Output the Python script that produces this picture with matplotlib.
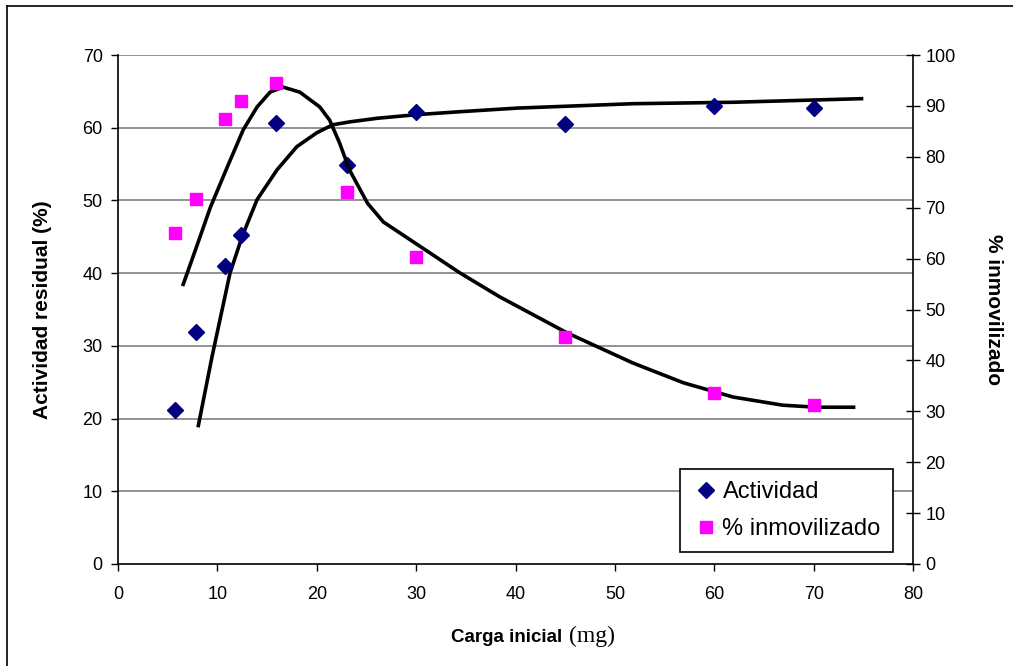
import matplotlib
matplotlib.use("Agg")
import matplotlib.pyplot as plt
from matplotlib.lines import Line2D

# ---- data ----
carga = [5.7, 7.8, 10.8, 12.4, 15.9, 23, 30, 45, 60, 70]
actividad = [21.2, 31.9, 41.0, 45.3, 60.7, 54.9, 62.2, 60.5, 63.0, 62.7]
inmovilizado = [65.0, 71.7, 87.4, 91.0, 94.5, 73.1, 60.3, 44.6, 33.6, 31.2]

# trend curve for actividad (left axis)
trend_act_x = [8.05, 9.46, 11.27, 12.48, 13.99, 16.0, 18.0, 20.0, 21.6, 23.3,
               26.1, 30.1, 34.4, 40.2, 51.8, 61.9, 75.0]
trend_act_y = [18.8, 28.5, 40.0, 45.0, 50.1, 54.2, 57.4, 59.3, 60.4, 60.8,
               61.3, 61.8, 62.2, 62.7, 63.3, 63.5, 64.0]

# trend curve for % inmovilizado (right axis)
trend_inm_x = [6.5, 7.9, 9.3, 11.0, 12.6, 14.0, 15.3, 16.6, 18.3, 20.3, 21.3,
               22.3, 23.3, 25.1, 26.7, 29.4, 34.4, 38.4, 45.2, 51.8, 56.9,
               61.9, 66.9, 70.3, 74.2]
trend_inm_y = [54.6, 62.3, 70.1, 78.0, 85.3, 89.8, 92.7, 93.7, 92.7, 89.8, 87.2,
               82.7, 77.4, 70.9, 67.2, 63.7, 57.2, 52.5, 45.4, 39.5, 35.6,
               32.8, 31.2, 30.8, 30.8]

x_ticks = [0, 10, 20, 30, 40, 50, 60, 70, 80]
left_ticks = [0, 10, 20, 30, 40, 50, 60, 70]
right_ticks = [0, 10, 20, 30, 40, 50, 60, 70, 80, 90, 100]

SANS = "Liberation Sans"
SERIF = "Liberation Serif"
plt.rcParams["font.family"] = SANS

fig = plt.figure(figsize=(10.13, 6.66), dpi=100)
ax = fig.add_axes([118 / 1013, 102 / 666, 795 / 1013, 509 / 666])
ax2 = ax.twinx()

# gridlines
for v in left_ticks[1:]:
    ax.axhline(v, color="#808080", lw=1.2, zorder=0)

ax.set_xlim(0, 80)
ax.set_ylim(0, 70)
ax2.set_ylim(0, 100)

ax.set_xticks(x_ticks)
ax.set_yticks(left_ticks)
ax2.set_yticks(right_ticks)

for a in (ax, ax2):
    a.spines["top"].set_visible(False)
    for s in a.spines.values():
        s.set_linewidth(1.2)
        s.set_color("black")
ax.spines["right"].set_visible(False)
ax2.spines["left"].set_visible(False)
ax2.spines["bottom"].set_visible(False)

ax.tick_params(axis="x", direction="out", length=5, width=1, labelsize=13, pad=11)
ax.tick_params(axis="y", direction="out", length=5, width=1, labelsize=13, pad=6)
ax2.tick_params(axis="y", direction="inout", length=10, width=1, labelsize=13, pad=4)

# series
ax.plot(carga, actividad, linestyle="none", marker="D", markersize=8.5,
        color="#000080", zorder=4)
ax2.plot(carga, inmovilizado, linestyle="none", marker="s", markersize=9,
         color="#FF00FF", zorder=4)
ax.plot(trend_act_x, trend_act_y, color="black", lw=2.6, zorder=3,
        solid_capstyle="butt", solid_joinstyle="round")
ax2.plot(trend_inm_x, trend_inm_y, color="black", lw=2.6, zorder=3,
         solid_capstyle="butt", solid_joinstyle="round")

# labels
ax.set_ylabel("Actividad residual (%)", fontsize=15, fontweight="bold",
              labelpad=22)
ax2.set_ylabel("% inmovilizado", fontsize=15, fontweight="bold",
               rotation=270, labelpad=34)
fig.text(0.5 * (450 + 563) / 1013, (666 - 637) / 666, "Carga inicial",
         fontsize=13.5, fontweight="bold", ha="center", va="center",
         family=SANS)
fig.text(569 / 1013, (666 - 636) / 666, "(mg)", fontsize=17,
         ha="left", va="center", family=SERIF)

# legend
handles = [
    Line2D([], [], linestyle="none", marker="D", markersize=8, color="#000080"),
    Line2D([], [], linestyle="none", marker="s", markersize=8.5, color="#FF00FF"),
]
leg = ax.legend(handles, ["Actividad", "% inmovilizado"], loc="lower left",
                bbox_to_anchor=((680 - 118) / 795, (564 - 552) / 509),
                fontsize=17, frameon=True, fancybox=False, framealpha=1,
                edgecolor="black", borderpad=0.5, handletextpad=0.1,
                handlelength=1.2, labelspacing=0.65, borderaxespad=0)
leg.get_frame().set_linewidth(1.2)
leg.set_zorder(10)

# figure border (top and left visible)
fig.add_artist(Line2D([7 / 1013, 7 / 1013], [0, (666 - 6) / 666],
                      color="black", lw=1.2, transform=fig.transFigure))
fig.add_artist(Line2D([7 / 1013, 1], [(666 - 6) / 666, (666 - 6) / 666],
                      color="black", lw=1.2, transform=fig.transFigure))

fig.savefig("out.png", dpi=100)
